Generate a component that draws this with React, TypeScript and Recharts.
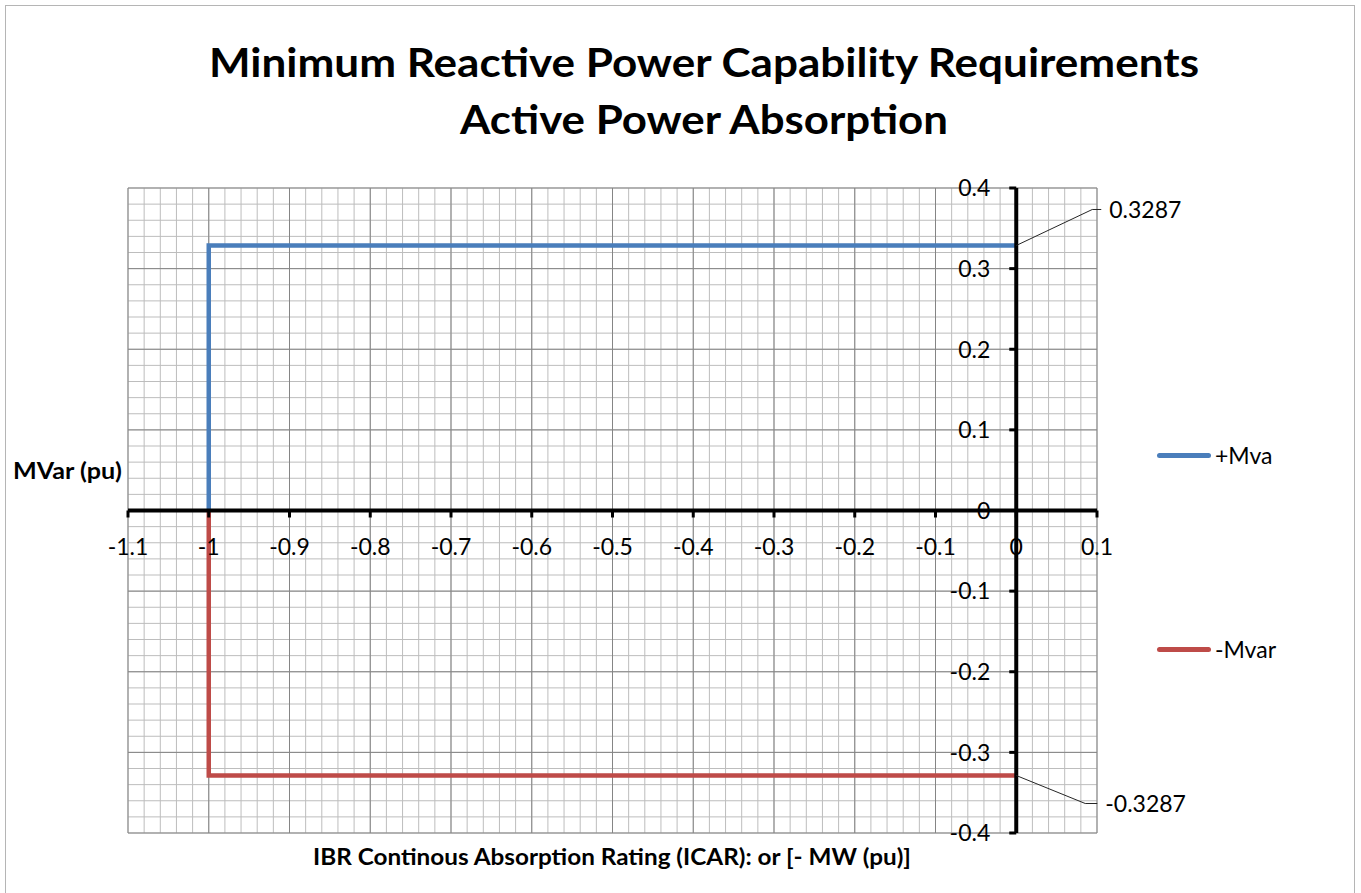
import React from "react";
import {
  LineChart,
  Line,
  XAxis,
  YAxis,
  CartesianGrid,
  ReferenceLine,
  ReferenceDot,
  LabelList,
  Legend,
} from "recharts";

const titleLines = [
  "Minimum Reactive Power Capability Requirements",
  "Active Power Absorption",
];
const xAxisTitle = "IBR Continous Absorption Rating (ICAR): or [- MW (pu)]";
const yAxisTitle = "MVar (pu)";

const xTicks = [-1.1, -1, -0.9, -0.8, -0.7, -0.6, -0.5, -0.4, -0.3, -0.2, -0.1, 0, 0.1];
const yTicks = [-0.4, -0.3, -0.2, -0.1, 0, 0.1, 0.2, 0.3, 0.4];

// minor grid every 0.02
const xMinorTicks = Array.from({ length: 61 }, (_, i) => +(-1.1 + i * 0.02).toFixed(2));
const yMinorTicks = Array.from({ length: 41 }, (_, i) => +(-0.4 + i * 0.02).toFixed(2));

const mwValues = [-1, -1, 0];
const posMvar = [0, 0.3287, 0.3287];
const negMvar = [0, -0.3287, -0.3287];

const posData = mwValues.map((x, i) => ({ x, y: posMvar[i] }));
const negData = mwValues.map((x, i) => ({ x, y: negMvar[i] }));

const FONT = "Lato, 'Open Sans', sans-serif";
const BLUE = "#4a7ebb";
const RED = "#be4b48";

const leaderLabel = (dx: number, dy: number, tail: number) => (props: any) => {
  const { x, y, value, index } = props;
  if (index !== mwValues.length - 1) return null;
  const ex = x + dx;
  const ey = y + dy;
  return (
    <g>
      <polyline
        points={`${x},${y} ${ex},${ey} ${ex + tail},${ey}`}
        fill="none"
        stroke="#262626"
        strokeWidth={1}
      />
      <text
        x={ex + tail + 8}
        y={ey}
        dy="0.36em"
        fontSize={23}
        fontFamily={FONT}
        fill="#000"
      >
        {value}
      </text>
    </g>
  );
};

const xTickShape = (label: string) => (props: any) => {
  const { cx, cy } = props;
  return (
    <g>
      <line x1={cx} y1={cy} x2={cx} y2={cy + 7} stroke="#000" strokeWidth={3} />
      <text x={cx} y={cy + 44} textAnchor="middle" fontSize={23} fontFamily={FONT} fill="#000">
        {label}
      </text>
    </g>
  );
};

const yTickShape = (label: string) => (props: any) => {
  const { cx, cy } = props;
  return (
    <g>
      <line x1={cx - 7} y1={cy} x2={cx} y2={cy} stroke="#000" strokeWidth={3} />
      <text
        x={cx - 26}
        y={cy}
        dy="0.36em"
        textAnchor="end"
        fontSize={23}
        fontFamily={FONT}
        fill="#000"
      >
        {label}
      </text>
    </g>
  );
};

const renderLegend = (props: any) => {
  const { payload } = props;
  return (
    <div style={{ fontFamily: FONT, fontSize: 23 }}>
      {payload.map((item: any, i: number) => (
        <div
          key={item.value}
          style={{
            display: "flex",
            alignItems: "center",
            height: 30,
            marginTop: i === 0 ? 0 : 164,
          }}
        >
          <span
            style={{
              display: "inline-block",
              width: 54,
              height: 5,
              borderRadius: 3,
              background: item.color,
              marginRight: 4,
            }}
          />
          <span>{item.value}</span>
        </div>
      ))}
    </div>
  );
};

const App = () => {
  return (
    <div
      style={{
        position: "absolute",
        left: 0,
        top: 0,
        width: 1361,
        height: 893,
        overflow: "hidden",
        background: "#fff",
      }}
    >
      <div
        style={{
          position: "absolute",
          left: 5,
          top: 5,
          width: 1348,
          height: 888,
          border: "1px solid #b5b5b5",
          borderBottom: "none",
        }}
      />
      <LineChart
        width={1361}
        height={893}
        margin={{ top: 188, right: 264, bottom: 60, left: 128 }}
      >
        <XAxis xAxisId="minor" type="number" dataKey="x" domain={[-1.1, 0.1]} ticks={xMinorTicks} interval={0} allowDataOverflow hide />
        <YAxis yAxisId="minor" type="number" domain={[-0.4, 0.4]} ticks={yMinorTicks} interval={0} allowDataOverflow hide />
        <XAxis type="number" dataKey="x" domain={[-1.1, 0.1]} ticks={xTicks} interval={0} allowDataOverflow hide />
        <YAxis type="number" domain={[-0.4, 0.4]} ticks={yTicks} interval={0} allowDataOverflow hide />
        <CartesianGrid xAxisId="minor" yAxisId="minor" stroke="#bdbdbd" strokeWidth={1} />
        <CartesianGrid stroke="#858585" strokeWidth={1} />

        <Line
          data={posData}
          dataKey="y"
          name="+Mva"
          stroke={BLUE}
          strokeWidth={4.5}
          dot={false}
          isAnimationActive={false}
        >
          <LabelList dataKey="y" content={leaderLabel(76, -36, 9)} />
        </Line>
        <Line
          data={negData}
          dataKey="y"
          name="-Mvar"
          stroke={RED}
          strokeWidth={4.5}
          dot={false}
          isAnimationActive={false}
        >
          <LabelList dataKey="y" content={leaderLabel(69, 28, 12)} />
        </Line>

        <ReferenceLine y={0} stroke="#000" strokeWidth={4} />
        <ReferenceLine x={0} stroke="#000" strokeWidth={4} />
        {xTicks.map((v) => (
          <ReferenceDot key={`xt${v}`} x={v} y={0} r={0} shape={xTickShape(String(v))} />
        ))}
        {yTicks.map((v) => (
          <ReferenceDot key={`yt${v}`} x={0} y={v} r={0} shape={yTickShape(String(v))} />
        ))}

        <Legend
          layout="vertical"
          align="center"
          verticalAlign="middle"
          wrapperStyle={{ left: 1157, top: 440, width: 180 }}
          content={renderLegend}
        />
      </LineChart>

      <svg
        width={1361}
        height={893}
        style={{ position: "absolute", left: 0, top: 0, pointerEvents: "none" }}
      >
        <g fontWeight={700} fontFamily={FONT} fill="#000">
          <text x={704} y={77} textAnchor="middle" fontSize={40} textLength={990} lengthAdjust="spacingAndGlyphs">
            {titleLines[0]}
          </text>
          <text x={704} y={134} textAnchor="middle" fontSize={40} textLength={488} lengthAdjust="spacingAndGlyphs">
            {titleLines[1]}
          </text>
          <text x={13} y={479} fontSize={22} textLength={109} lengthAdjust="spacingAndGlyphs">
            {yAxisTitle}
          </text>
          <text x={612} y={865} textAnchor="middle" fontSize={22} textLength={598} lengthAdjust="spacingAndGlyphs">
            {xAxisTitle}
          </text>
        </g>
      </svg>
    </div>
  );
};

export default App;
